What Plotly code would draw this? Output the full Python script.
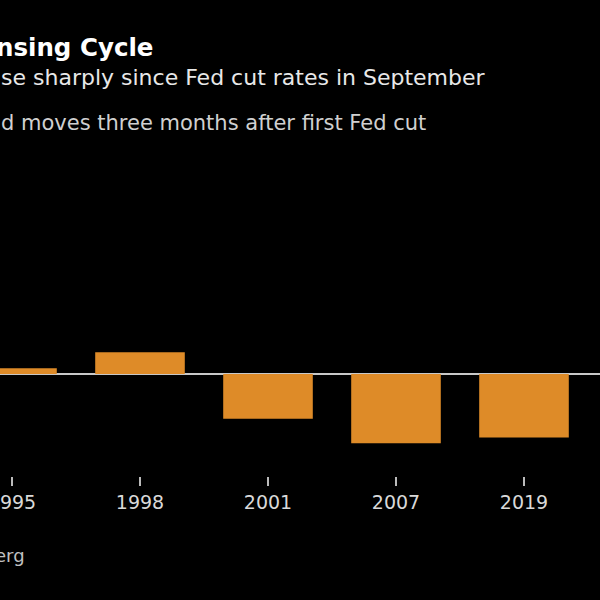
import plotly.graph_objects as go

years = ["1995", "1998", "2001", "2007", "2019"]
changes = [3, 11.5, -23.5, -36.5, -33.5]

title_txt = "nsing Cycle"
subtitle_txt = "se sharply since Fed cut rates in September"
note_txt = "d moves three months after first Fed cut"
source_txt = "erg"

FONT = "DejaVu Sans"
bar_color = "#DE8B28"

T, B = 150, 124
plot_h = 600 - T - B


def px_to_paper(px_x, px_y):
    return px_x / 600.0, (600 - B - px_y) / plot_h


fig = go.Figure(go.Bar(
    x=years, y=changes, marker=dict(color=bar_color, line=dict(width=0)),
    width=0.7,
))

texts = [
    ("<b>" + title_txt + "</b>", -6, 47, 24.5, "#ffffff"),
    (subtitle_txt, -1, 78, 22, "#e8e8e8"),
    (note_txt, -1, 123, 21, "#d0d0d0"),
    (source_txt, -7, 555, 18, "#c0c0c0"),
]
annotations = []
for txt, px_x, px_y, size, col in texts:
    ax, ay = px_to_paper(px_x, px_y)
    annotations.append(dict(
        text=txt, x=ax, y=ay, xref="paper", yref="paper", showarrow=False,
        xanchor="left", yanchor="middle",
        font=dict(size=size, color=col, family=FONT)))

fig.update_layout(
    width=600, height=600,
    paper_bgcolor="#000000", plot_bgcolor="#000000",
    margin=dict(l=0, r=0, t=T, b=B, autoexpand=False),
    showlegend=False,
    font=dict(family=FONT, color="#d9d9d9"),
    xaxis=dict(
        type="category", range=[-0.09375, 4.59375], automargin=False,
        showgrid=False, zeroline=False, showline=False,
        ticks="outside", ticklen=9, tickwidth=1.5, tickcolor="#bbbbbb",
        tickfont=dict(size=19, color="#d9d9d9", family=FONT),
    ),
    yaxis=dict(
        range=[-53.7, 117.9], showgrid=False, showticklabels=False, automargin=False,
        zeroline=True, zerolinecolor="#c8c8c8", zerolinewidth=2,
    ),
    annotations=annotations,
)

fig.write_html("out.html", config={"displayModeBar": False},
               post_script="document.body.style.margin='0';")
